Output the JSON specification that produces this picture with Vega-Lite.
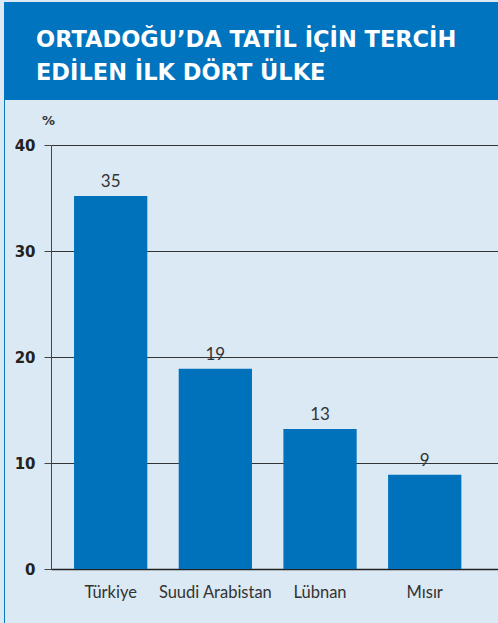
{
  "$schema": "https://vega.github.io/schema/vega-lite/v6.json",
  "background": "#dbe9f4",
  "padding": {"left": 4, "top": 2, "right": 0, "bottom": 0},
  "config": {"view": {"stroke": null}},
  "spacing": 0,
  "vconcat": [
    {
      "width": 494,
      "height": 98,
      "view": {"fill": "#0074be", "stroke": null},
      "data": {"values": [{}]},
      "mark": {"type": "text"},
      "encoding": {"text": {"value": ""}},
      "title": {
        "text": ["ORTADOĞU’DA TATİL İÇİN TERCİH", "EDİLEN İLK DÖRT ÜLKE"],
        "orient": "top",
        "anchor": "start",
        "frame": "group",
        "offset": -82,
        "dx": 32,
        "color": "#ffffff",
        "font": "DejaVu Sans",
        "fontWeight": "bold",
        "fontSize": 22.5,
        "lineHeight": 33
      }
    },
    {
      "spacing": 46,
      "bounds": "flush",
      "hconcat": [
        {
          "width": 1,
          "height": 523,
          "view": {"fill": "#0a78c2", "stroke": null},
          "data": {"values": [{}]},
          "mark": {"type": "text"},
          "encoding": {"text": {"value": ""}}
        },
        {
          "spacing": 0,
          "vconcat": [
            {
              "width": 1,
              "height": 14,
              "data": {"values": [{}]},
              "mark": {"type": "text"},
              "encoding": {"text": {"value": ""}}
            },
            {
              "width": 447,
              "height": 424,
              "data": {
                "values": [
                  {"country": "Türkiye", "pct": 35.2},
                  {"country": "Suudi Arabistan", "pct": 18.9},
                  {"country": "Lübnan", "pct": 13.2},
                  {"country": "Mısır", "pct": 8.9}
                ]
              },
              "encoding": {
                "x": {
                  "field": "country",
                  "type": "nominal",
                  "sort": null,
                  "scale": {"paddingInner": 0.3, "paddingOuter": 0.285, "align": 0.386},
                  "axis": {
                    "title": null,
                    "labelAngle": 0,
                    "ticks": false,
                    "domainColor": "#222222",
                    "domainWidth": 1.5,
                    "labelFont": "Lato",
                    "labelFontSize": 16.5,
                    "labelColor": "#333333",
                    "labelPadding": 15
                  }
                },
                "y": {
                  "field": "pct",
                  "type": "quantitative",
                  "scale": {"domain": [0, 40]},
                  "axis": {
                    "values": [0, 10, 20, 30, 40],
                    "title": "%",
                    "titleAngle": 0,
                    "titleAlign": "center",
                    "titleBaseline": "alphabetic",
                    "titleX": -3,
                    "titleY": -21,
                    "titleFont": "DejaVu Sans",
                    "titleFontWeight": "bold",
                    "titleFontSize": 13,
                    "titleColor": "#333333",
                    "labelFont": "DejaVu Sans",
                    "labelFontWeight": "bold",
                    "labelFontSize": 15,
                    "labelColor": "#222222",
                    "labelPadding": 9,
                    "tickSize": 7,
                    "tickColor": "#444444",
                    "domainColor": "#444444",
                    "gridColor": "#333333",
                    "gridWidth": 1,
                    "gridOpacity": 1
                  }
                }
              },
              "layer": [
                {"mark": {"type": "bar", "color": "#0072bc"}},
                {
                  "mark": {"type": "text", "dy": -9, "baseline": "alphabetic", "font": "Lato", "fontSize": 17, "color": "#333333"},
                  "encoding": {"text": {"field": "pct", "type": "quantitative", "format": ".0f"}}
                }
              ]
            }
          ]
        }
      ]
    }
  ]
}
